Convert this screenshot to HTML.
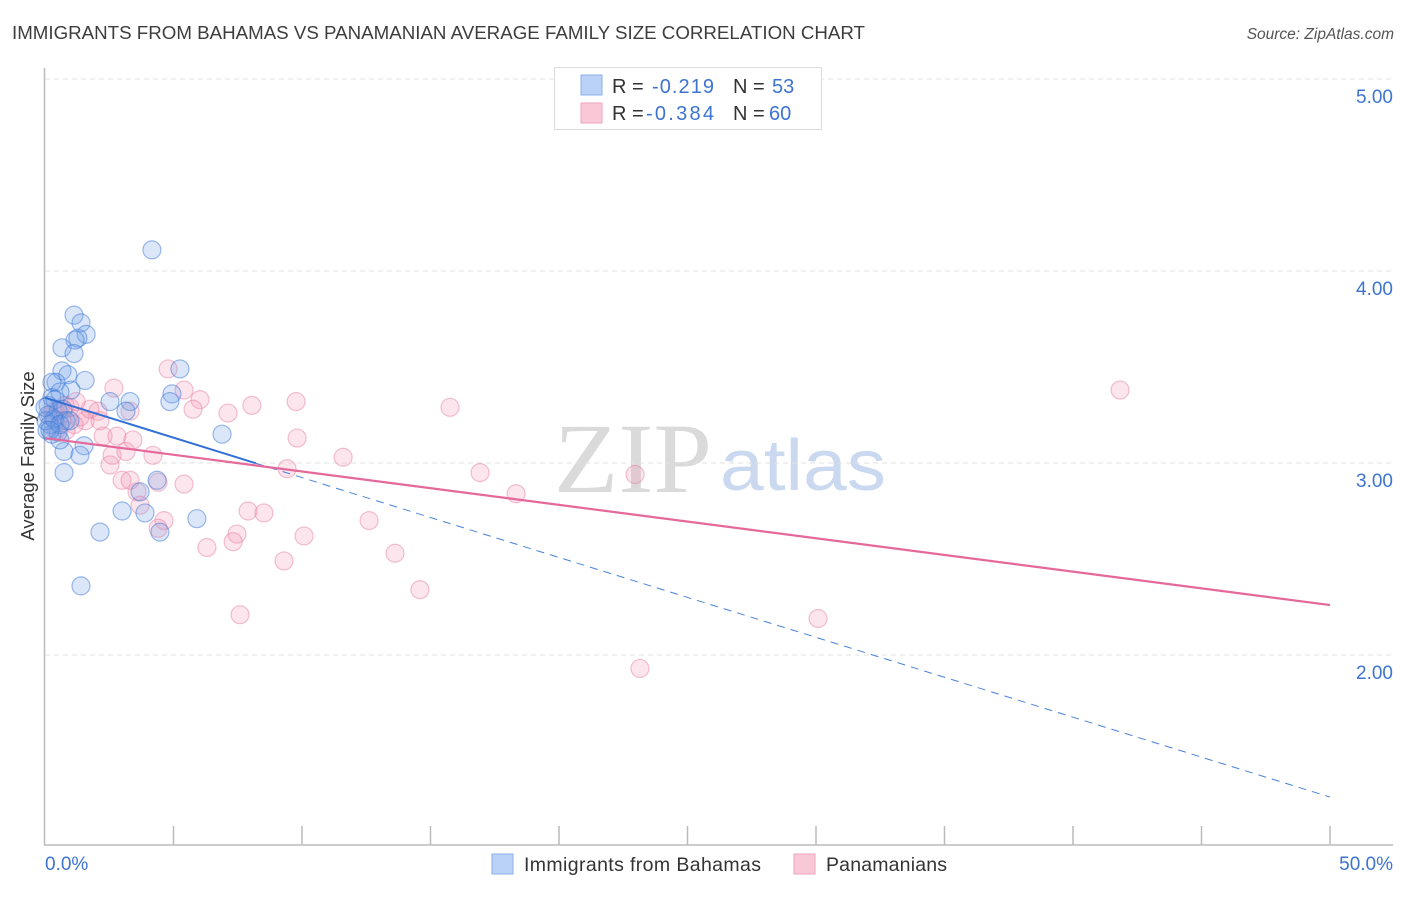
<!DOCTYPE html>
<html><head><meta charset="utf-8"><style>
html,body{margin:0;padding:0;background:#fff;}
body{width:1406px;height:892px;overflow:hidden;font-family:"Liberation Sans",sans-serif;}
</style></head><body>
<svg id="chart" width="1406" height="892" xmlns="http://www.w3.org/2000/svg" font-family="Liberation Sans, sans-serif">
<text x="12" y="39" font-size="18" fill="#3d3d3d" textLength="853" lengthAdjust="spacingAndGlyphs">IMMIGRANTS FROM BAHAMAS VS PANAMANIAN AVERAGE FAMILY SIZE CORRELATION CHART</text>
<text x="1394" y="39" font-size="15.5" fill="#555" text-anchor="end" font-style="italic">Source: ZipAtlas.com</text>
<g>
<text x="633" y="492" font-size="100" font-family="Liberation Serif, serif" fill="#dadada" text-anchor="middle" textLength="158" lengthAdjust="spacingAndGlyphs">ZIP</text>
<text x="803" y="490" font-size="72" fill="#cad9f0" text-anchor="middle" textLength="166" lengthAdjust="spacingAndGlyphs">atlas</text>
</g>
<g id="grid"></g>
<g id="axes"></g>
<text transform="translate(34,456) rotate(-90)" font-size="18.5" fill="#333" text-anchor="middle">Average Family Size</text>
<g id="points"></g>
<g id="lines"></g>
<g>
<rect x="554.5" y="67.5" width="267" height="62" fill="#fff" stroke="#ddd"/>
<rect x="581" y="75" width="21" height="20" fill="#b9d2f5" stroke="#8ab0e8"/>
<rect x="581" y="103" width="21" height="20" fill="#f9c8d6" stroke="#efa5bd"/>
<text x="612" y="93" font-size="20" fill="#333">R = </text><text x="652" y="93" font-size="20" fill="#3d74d1" textLength="62">-0.219</text>
<text x="733" y="93" font-size="20" fill="#333">N = </text><text x="772" y="93" font-size="20" fill="#3d74d1">53</text>
<text x="612" y="120" font-size="20" fill="#333">R = </text><text x="646" y="120" font-size="20" fill="#3d74d1" textLength="68">-0.384</text>
<text x="733" y="120" font-size="20" fill="#333">N = </text><text x="769" y="120" font-size="20" fill="#3d74d1">60</text>
</g>
<g>
<rect x="492" y="854" width="21" height="20" fill="#b9d2f5" stroke="#8ab0e8"/>
<text x="524" y="871" font-size="19.5" fill="#333" textLength="237">Immigrants from Bahamas</text>
<rect x="794" y="854" width="21" height="20" fill="#f9c8d6" stroke="#efa5bd"/>
<text x="826" y="871" font-size="19.5" fill="#333" textLength="121">Panamanians</text>
</g>
</svg>
<script>
const yTicks=[2,3,4,5];
const yTickLabels=["2.00","3.00","4.00","5.00"];
const xTickPcts=[0,5,10,15,20,25,30,35,40,45,50];
const xEndLabels=["0.0%","50.0%"];
const bahamasX=[4.16,1.13,1.40,1.60,1.28,0.66,1.17,1.13,0.66,0.89,0.43,1.56,1.01,0.27,5.25,4.94,0.58,0.27,3.31,3.15,4.86,0.70,0.39,6.89,0.51,1.52,0.74,1.36,0.74,3.00,2.14,3.89,3.70,4.36,5.91,4.47,1.40,0.12,0.12,0.19,0.27,0.08,0.39,0.51,0.58,0.82,2.53,0.35,0.04,0.58,0.19,0.97,0.0];
const bahamasY=[4.11,3.77,3.73,3.67,3.65,3.60,3.64,3.57,3.48,3.46,3.42,3.43,3.38,3.42,3.49,3.36,3.37,3.34,3.32,3.27,3.32,3.28,3.22,3.15,3.16,3.09,3.06,3.04,2.95,2.75,2.64,2.74,2.85,2.91,2.71,2.64,2.36,3.30,3.25,3.20,3.15,3.17,3.33,3.27,3.12,3.22,3.32,3.23,3.22,3.20,3.17,3.22,3.29];
const panX=[4.79,2.68,5.41,6.03,9.77,8.05,7.12,5.76,15.76,1.36,0.58,0.78,2.06,3.31,1.56,1.13,2.26,2.80,9.81,2.61,3.15,4.20,11.60,2.53,9.42,16.93,22.96,18.33,41.83,3.00,3.31,5.41,3.58,4.40,3.70,4.63,4.40,7.90,8.52,7.47,7.32,10.08,6.30,12.61,13.62,9.30,14.59,7.59,30.08,23.15,0.66,0.39,0.97,1.75,2.14,0.43,0.82,3.42,1.21,0.2];
const panY=[3.49,3.39,3.38,3.33,3.32,3.30,3.26,3.28,3.29,3.24,3.28,3.30,3.27,3.27,3.22,3.20,3.14,3.14,3.13,3.04,3.06,3.04,3.03,2.99,2.97,2.95,2.94,2.84,3.38,2.91,2.91,2.89,2.85,2.90,2.78,2.70,2.66,2.75,2.74,2.63,2.59,2.62,2.56,2.70,2.53,2.49,2.34,2.21,2.19,1.93,3.22,3.27,3.29,3.28,3.22,3.17,3.17,3.12,3.32,3.25];
const bahamasTrend=[3.34,1.26];
const bahamasSolidEnd=8.2;
const panTrend=[3.13,2.26];

const NS="http://www.w3.org/2000/svg";
const xs=p=>45+p*25.7;
const ys=v=>79+(5-v)*192;
function mk(tag,attrs,parent){const e=document.createElementNS(NS,tag);for(const k in attrs)e.setAttribute(k,attrs[k]);parent.appendChild(e);return e;}
const grid=document.getElementById('grid'),axes=document.getElementById('axes'),pts=document.getElementById('points'),lines=document.getElementById('lines');
yTicks.forEach((t,i)=>{
 const l=mk('line',{x1:45,x2:1393,y1:ys(t),y2:ys(t),stroke:'#e2e2e2','stroke-dasharray':'5,4'},grid);
 
 
 const tx=mk('text',{x:1393,y:ys(t)+24,'font-size':19,fill:'#3d74d1','text-anchor':'end'},axes);
 tx.textContent=yTickLabels[i];
 
 
});
const ax=mk('line',{x1:44.5,x2:44.5,y1:68,y2:845,stroke:'#bbb','stroke-width':1.5},axes);


const bx=mk('line',{x1:44,x2:1393,y1:845,y2:845,stroke:'#bbb','stroke-width':1.5},axes);


xTickPcts.forEach(p=>{if(p===0)return;
 const t=mk('line',{x1:xs(p),x2:xs(p),y1:826,y2:845,stroke:'#bbb','stroke-width':1.5},axes);
 
 
});
const xl0=mk('text',{x:45,y:870,'font-size':19,fill:'#3d74d1'},axes);xl0.textContent=xEndLabels[0];


const xl1=mk('text',{x:1393,y:870,'font-size':19,fill:'#3d74d1','text-anchor':'end'},axes);xl1.textContent=xEndLabels[1];


panX.forEach((x,i)=>{
 const c=mk('circle',{cx:xs(x),cy:ys(panY[i]),r:9,fill:'rgba(244,150,180,0.25)',stroke:'rgba(229,120,158,0.45)','stroke-width':1.2},pts);
 
 
});
bahamasX.forEach((x,i)=>{
 const c=mk('circle',{cx:xs(x),cy:ys(bahamasY[i]),r:9,fill:'rgba(110,160,232,0.25)',stroke:'rgba(60,120,215,0.5)','stroke-width':1.2},pts);
 
 
});
const bAt=p=>bahamasTrend[0]+(bahamasTrend[1]-bahamasTrend[0])*p/50;
const bl1=mk('line',{x1:xs(0),y1:ys(bAt(0)),x2:xs(bahamasSolidEnd),y2:ys(bAt(bahamasSolidEnd)),stroke:'#2f6fd6','stroke-width':2},lines);


const bl2=mk('line',{x1:xs(bahamasSolidEnd),y1:ys(bAt(bahamasSolidEnd)),x2:xs(50),y2:ys(bAt(50)),stroke:'#4a82d8','stroke-width':1,'stroke-dasharray':'8,6'},lines);


const pl=mk('line',{x1:xs(0),y1:ys(panTrend[0]),x2:xs(50),y2:ys(panTrend[1]),stroke:'#e5689a','stroke-width':2.2},lines);


</script>
</body></html>
